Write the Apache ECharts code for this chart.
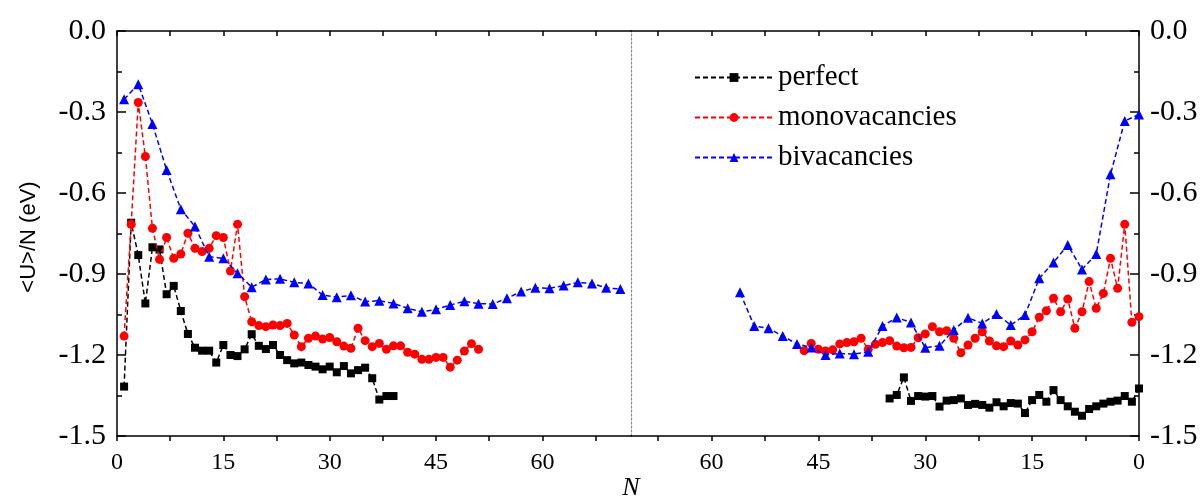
<!DOCTYPE html>
<html><head><meta charset="utf-8">
<script src="https://cdn.jsdelivr.net/npm/echarts@6/dist/echarts.min.js"></script>
<style>html,body{margin:0;padding:0;background:#fff}#c{width:1204px;height:501px}</style>
</head><body><div id="c"></div>
<script>
// ---- Data (N = number of adsorbed atoms, value = <U>/N in eV) ----
// Left panel
const leftPerfectStart = 1;
const leftPerfect = [-1.317,-0.710,-0.830,-1.009,-0.801,-0.809,-0.975,-0.944,-1.037,-1.122,
  -1.173,-1.184,-1.184,-1.228,-1.163,-1.200,-1.204,-1.179,-1.123,-1.166,
  -1.178,-1.163,-1.200,-1.219,-1.231,-1.228,-1.237,-1.243,-1.253,-1.243,
  -1.264,-1.241,-1.268,-1.256,-1.247,-1.286,-1.365,-1.352,-1.352];
const leftMonoStart = 1;
const leftMono = [-1.130,-0.716,-0.265,-0.465,-0.731,-0.846,-0.765,-0.842,-0.826,-0.749,
  -0.805,-0.817,-0.805,-0.758,-0.765,-0.889,-0.716,-0.984,-1.077,-1.091,
  -1.095,-1.089,-1.091,-1.083,-1.126,-1.169,-1.138,-1.130,-1.141,-1.135,
  -1.151,-1.167,-1.175,-1.101,-1.147,-1.169,-1.157,-1.179,-1.166,-1.166,
  -1.190,-1.197,-1.216,-1.216,-1.209,-1.209,-1.245,-1.219,-1.185,-1.158,-1.179];
const leftBiN = [1,3,5,7,9,11,13,15,17,19,21,23,25,27,29,31,33,35,37,39,41,43,45,47,49,51,53,55,57,59,61,63,65,67,69,71];
const leftBi = [-0.253,-0.197,-0.344,-0.515,-0.660,-0.724,-0.836,-0.842,-0.897,-0.949,
  -0.920,-0.918,-0.931,-0.935,-0.978,-0.986,-0.979,-1.002,-0.999,-1.009,
  -1.027,-1.040,-1.031,-1.015,-1.001,-1.010,-1.011,-0.990,-0.965,-0.951,
  -0.953,-0.943,-0.931,-0.935,-0.951,-0.956];
// Right panel (reversed N axis)
const rightPerfectStart = 0;
const rightPerfect = [-1.324,-1.373,-1.352,-1.369,-1.373,-1.380,-1.390,-1.400,-1.425,-1.410,
  -1.390,-1.367,-1.330,-1.373,-1.348,-1.367,-1.415,-1.380,-1.378,-1.390,
  -1.375,-1.395,-1.385,-1.381,-1.385,-1.361,-1.367,-1.369,-1.391,-1.352,
  -1.354,-1.352,-1.370,-1.283,-1.348,-1.361];
const rightMonoStart = 0;
const rightMono = [-1.058,-1.079,-0.716,-0.953,-0.842,-0.972,-1.027,-0.928,-1.040,-1.101,
  -0.993,-1.040,-0.990,-1.036,-1.060,-1.114,-1.144,-1.163,-1.148,-1.169,
  -1.166,-1.148,-1.114,-1.138,-1.163,-1.192,-1.138,-1.110,-1.114,-1.095,
  -1.122,-1.136,-1.172,-1.173,-1.167,-1.147,-1.154,-1.160,-1.179,-1.138,
  -1.151,-1.154,-1.159,-1.181,-1.185,-1.179,-1.157,-1.184];
const rightBiN = [0,2,4,6,8,10,12,14,16,18,20,22,24,26,28,30,32,34,36,38,40,42,44,46,48,50,52,54,56];
const rightBi = [-0.309,-0.333,-0.531,-0.826,-0.883,-0.793,-0.857,-0.916,-1.052,-1.089,
  -1.048,-1.083,-1.062,-1.107,-1.166,-1.173,-1.080,-1.061,-1.093,-1.188,
  -1.197,-1.194,-1.200,-1.172,-1.159,-1.130,-1.101,-1.093,-0.968];

const xTickValues = [0,7.5,15,22.5,30,37.5,45,52.5,60,67.5];
const xLabelValues = [0,15,30,45,60];
const seriesNames = ['perfect','monovacancies','bivacancies'];
const yTitle = '<U>/N (eV)';
const xTitle = 'N';

function seq(start, vals){ return vals.map((v,i)=>[start+i, v]); }
function pairs(ns, vals){ return vals.map((v,i)=>[ns[i], v]); }

const SERIF = 'Liberation Serif, Times New Roman, serif';
const styles = [
  {color:'#000000', symbol:'rect', size:8},
  {color:'#ff0000', symbol:'circle', size:9},
  {color:'#0000ff', symbol:'triangle', size:10}
];
function mk(nameIdx, data, xi, yi){
  const s = styles[nameIdx];
  return {
    type:'line', name: seriesNames[nameIdx], data, xAxisIndex: xi, yAxisIndex: yi,
    symbol: s.symbol, symbolSize: s.size, showSymbol: true, animation: false,
    itemStyle:{color:s.color}, lineStyle:{color:s.color, width:1.5, type:[5,3]},
    z: 3 + nameIdx
  };
}

function xAxisBottom(gi, inverse, max){
  return {
    type:'value', gridIndex: gi, position:'bottom', min:0, max:max, inverse: inverse,
    axisLine:{show:true, onZero:false, lineStyle:{color:'#000', width:1.5}},
    axisTick:{show:true, inside:false, length:5, customValues: xTickValues, lineStyle:{color:'#000', width:1.5}},
    axisLabel:{show:true, customValues: xLabelValues, margin:15, color:'#000', fontFamily:SERIF, fontSize:24},
    splitLine:{show:false}
  };
}
function xAxisTop(gi, inverse, max){
  return {
    type:'value', gridIndex: gi, position:'top', min:0, max:max, inverse: inverse,
    axisLine:{show:true, onZero:false, lineStyle:{color:'#000', width:1.5}},
    axisTick:{show:true, inside:true, length:5, customValues: xTickValues, lineStyle:{color:'#000', width:1.5}},
    axisLabel:{show:false}, splitLine:{show:false}
  };
}
function yAxisMain(gi, pos){
  return {
    type:'value', gridIndex: gi, position: pos, min:-1.5, max:0, interval:0.3,
    axisLine:{show:true, onZero:false, lineStyle:{color:'#000', width:1.5}},
    axisTick:{show:true, inside:true, length:9, lineStyle:{color:'#000', width:1.5}},
    minorTick:{show:true, splitNumber:2, length:5, lineStyle:{color:'#000', width:1.5}},
    axisLabel:{show:true, margin:11, color:'#000', fontFamily:SERIF, fontSize:30,
      formatter: v => v.toFixed(1)},
    splitLine:{show:false}, minorSplitLine:{show:false}
  };
}
function yAxisDivider(gi, pos, show){
  return {
    type:'value', gridIndex: gi, position: pos, min:-1.5, max:0, interval:0.3,
    axisLine:{show:show, onZero:false, lineStyle:{color:'#8a8a8a', width:1.2, type:[2,2]}},
    axisTick:{show:false}, axisLabel:{show:false}, splitLine:{show:false}
  };
}

const chart = echarts.init(document.getElementById('c'), null, {renderer:'canvas'});
chart.setOption({
  backgroundColor:'#ffffff',
  animation:false,
  grid:[
    {left:117, top:31, width:514, height:405},
    {left:631, top:31, width:508, height:405}
  ],
  xAxis:[ xAxisBottom(0,false,72.5), xAxisTop(0,false,72.5), xAxisBottom(1,true,71.3), xAxisTop(1,true,71.3) ],
  yAxis:[ yAxisMain(0,'left'), yAxisDivider(0,'right',true), yAxisMain(1,'right'), yAxisDivider(1,'left',false) ],
  legend:{
    data: seriesNames, orient:'vertical', left:689, top:58, itemWidth:78, itemHeight:11, itemGap:11,
    textStyle:{fontFamily:SERIF, fontSize:29, color:'#000'}, selectedMode:false
  },
  graphic:[
    {type:'text', x:29, y:237, rotation:Math.PI/2,
      style:{text:yTitle, fontFamily:'Liberation Sans, Arial, sans-serif', fontSize:22, fill:'#000', align:'center', verticalAlign:'middle'}},
    {type:'text', x:631, y:488,
      style:{text:xTitle, fontFamily:SERIF, fontStyle:'italic', fontSize:26, fill:'#000', align:'center', verticalAlign:'middle'}}
  ],
  series:[
    mk(0, seq(leftPerfectStart, leftPerfect), 0, 0),
    mk(1, seq(leftMonoStart, leftMono), 0, 0),
    mk(2, pairs(leftBiN, leftBi), 0, 0),
    mk(0, seq(rightPerfectStart, rightPerfect), 2, 2),
    mk(1, seq(rightMonoStart, rightMono), 2, 2),
    mk(2, pairs(rightBiN, rightBi), 2, 2)
  ]
});
</script>
</body></html>
